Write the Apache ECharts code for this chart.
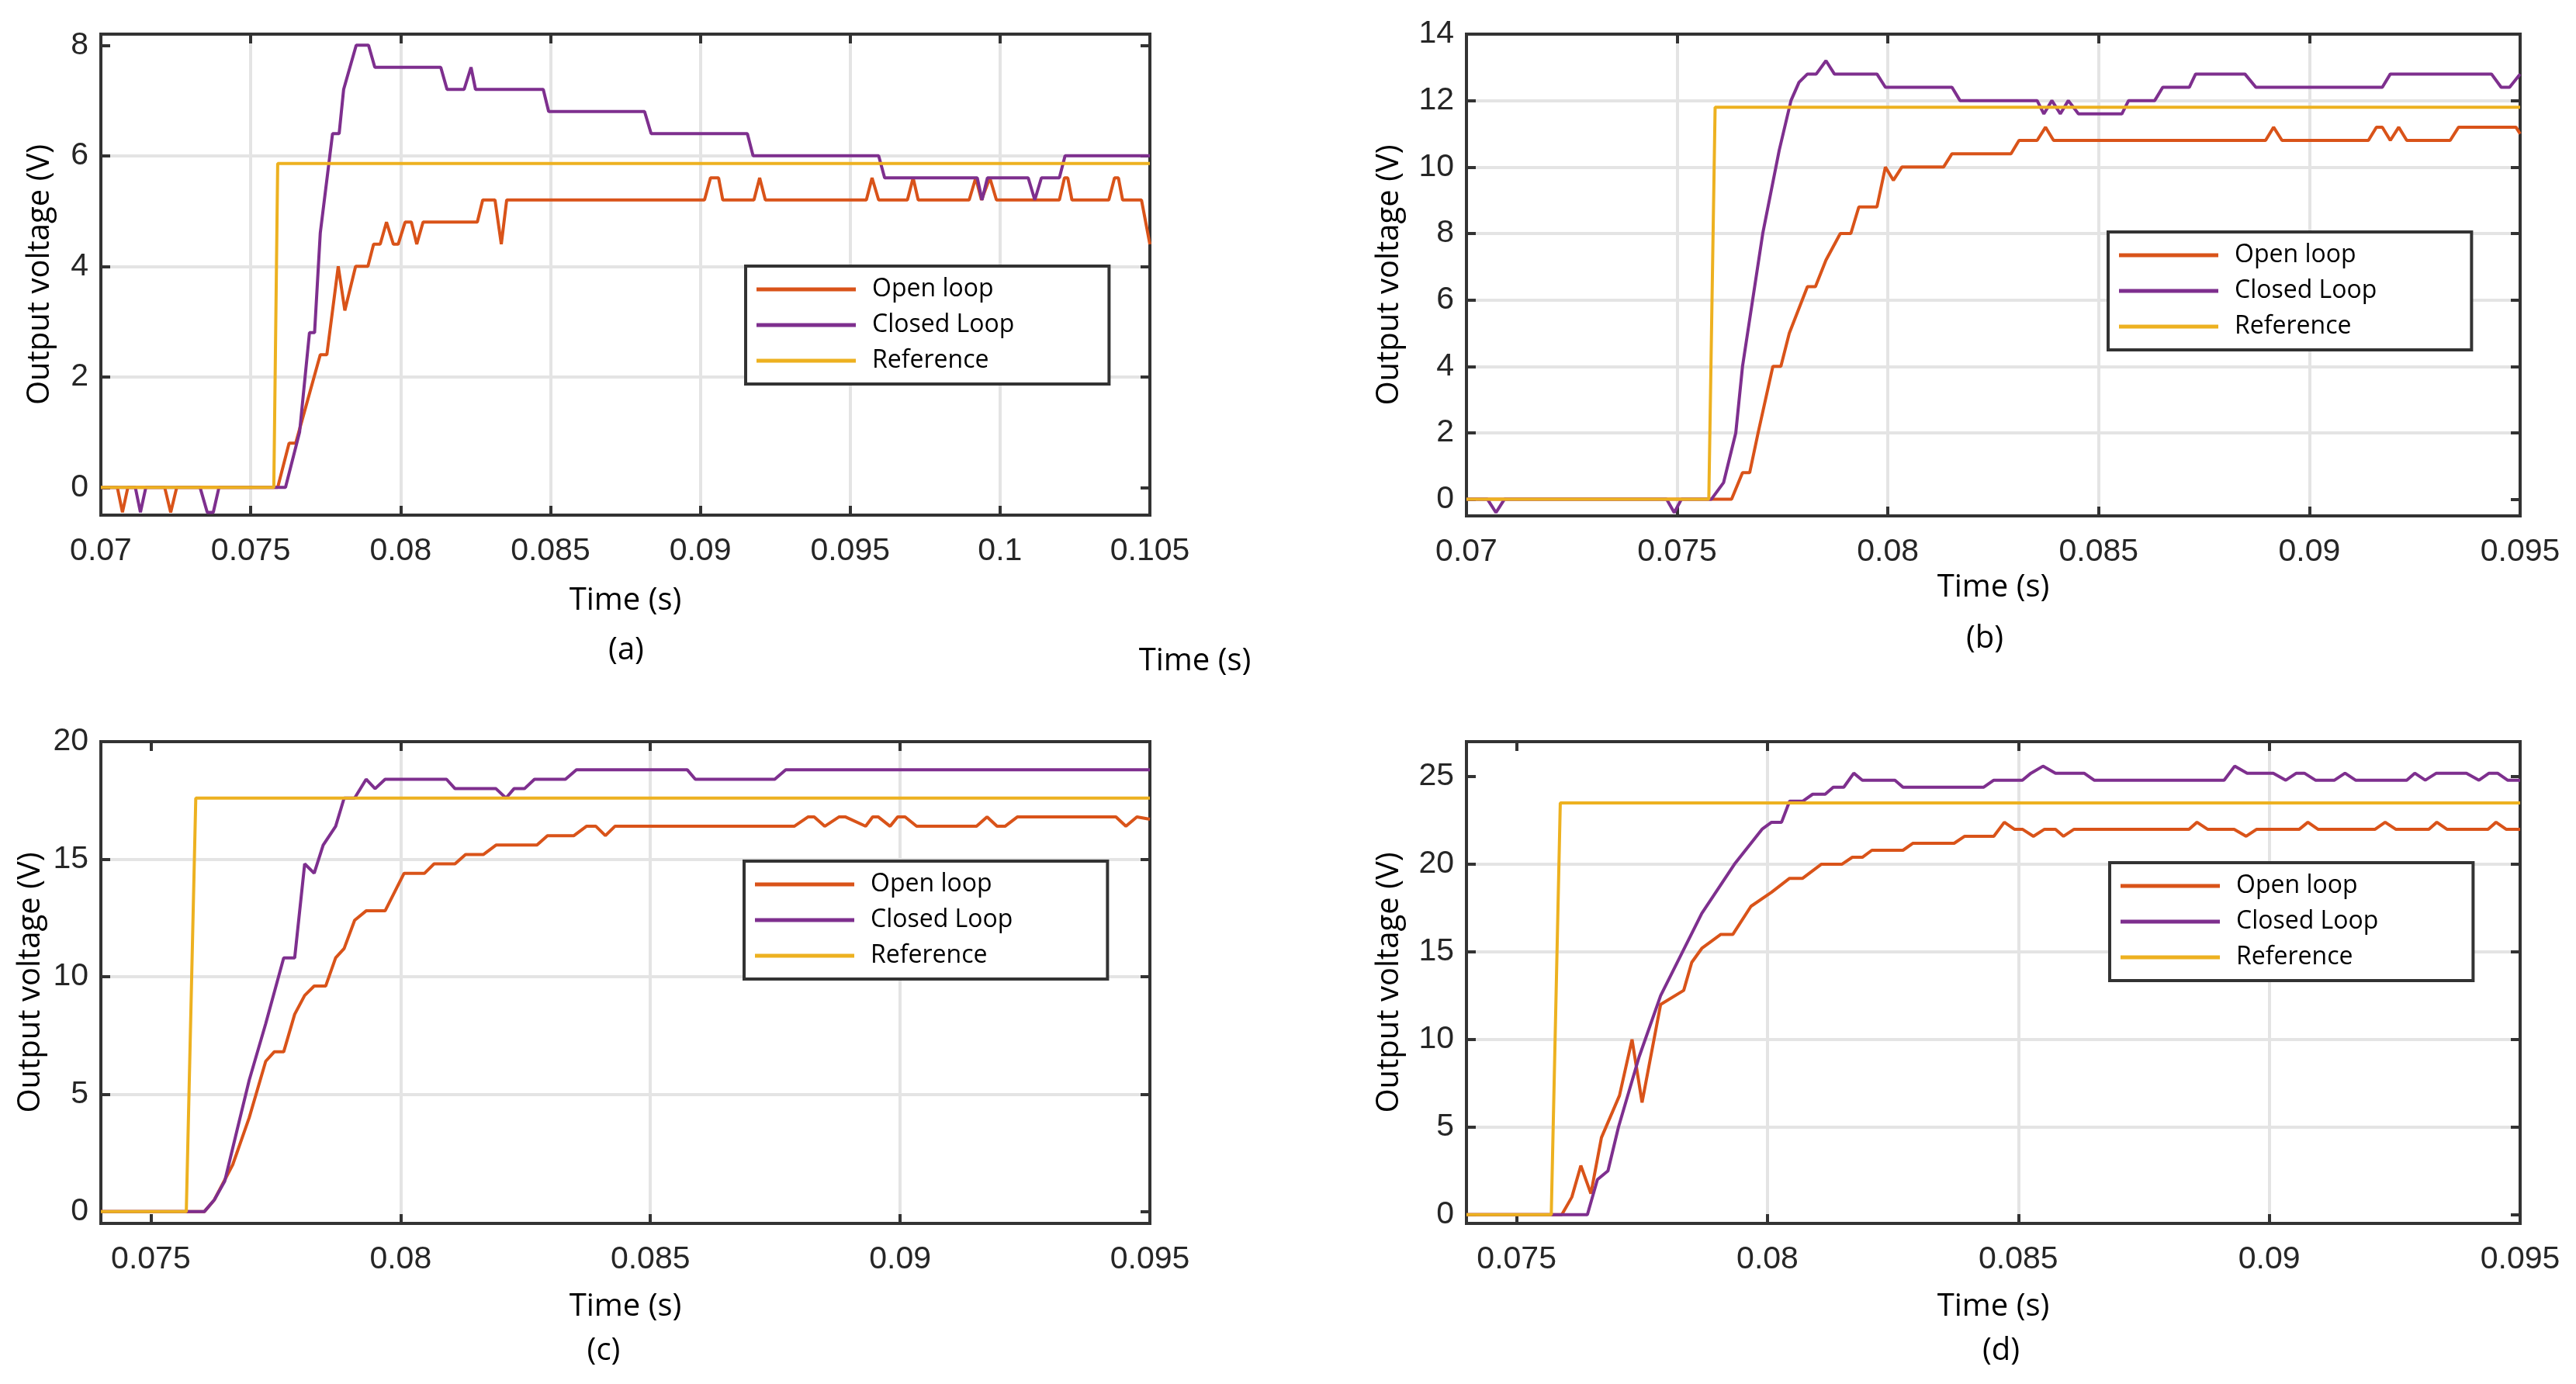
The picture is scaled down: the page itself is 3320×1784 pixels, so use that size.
<!DOCTYPE html>
<html><head><meta charset="utf-8">
<script src="https://cdn.jsdelivr.net/npm/echarts@6/dist/echarts.min.js"></script>
<style>html,body{margin:0;padding:0;background:#fff}#c{width:3320px;height:1784px}</style>
</head><body><div id="c"></div>
<script>
const seriesNames = ['Open loop', 'Closed Loop', 'Reference'];
const seriesColors = ['#D95319', '#7E2F8E', '#EDB120'];

// ---- panel (a) ----
const aOpen = [[0.07,0],[0.07055,0],[0.07072,-0.45],[0.0709,0],[0.07213,0],[0.07233,-0.45],[0.07253,0],[0.0759,0],[0.07628,0.8],[0.0765,0.8],[0.07732,2.4],[0.07754,2.4],[0.07792,4.0],[0.07814,3.2],[0.0785,4.0],[0.07891,4.0],[0.0791,4.4],[0.07932,4.4],[0.07953,4.8],[0.07976,4.4],[0.07992,4.4],[0.08015,4.8],[0.08036,4.8],[0.08054,4.4],[0.08075,4.8],[0.08256,4.8],[0.08274,5.2],[0.08315,5.2],[0.08336,4.4],[0.08354,5.2],[0.09014,5.2],[0.09034,5.6],[0.09061,5.6],[0.09075,5.2],[0.09179,5.2],[0.09198,5.6],[0.09217,5.2],[0.09554,5.2],[0.09573,5.6],[0.09595,5.2],[0.09691,5.2],[0.0971,5.6],[0.09727,5.2],[0.09897,5.2],[0.09919,5.6],[0.09938,5.2],[0.09966,5.6],[0.09988,5.2],[0.10198,5.2],[0.10215,5.6],[0.10226,5.6],[0.1024,5.2],[0.10363,5.2],[0.10382,5.6],[0.10395,5.6],[0.10409,5.2],[0.10472,5.2],[0.105,4.4]];
const aClosed = [[0.07,0],[0.07115,0],[0.07132,-0.45],[0.0715,0],[0.07331,0],[0.07355,-0.45],[0.07375,-0.45],[0.07394,0],[0.07616,0],[0.07663,1.0],[0.07696,2.8],[0.07713,2.8],[0.07732,4.6],[0.07773,6.4],[0.07795,6.4],[0.0781,7.2],[0.07852,8.0],[0.07893,8.0],[0.07914,7.6],[0.08134,7.6],[0.08155,7.2],[0.08212,7.2],[0.08235,7.6],[0.0825,7.2],[0.08476,7.2],[0.08494,6.8],[0.08814,6.8],[0.08836,6.4],[0.09157,6.4],[0.09176,6.0],[0.09595,6.0],[0.09615,5.6],[0.09924,5.6],[0.0994,5.2],[0.09958,5.6],[0.10094,5.6],[0.10116,5.2],[0.10138,5.6],[0.10198,5.6],[0.10217,6.0],[0.105,6.0]];
const aRef = [[0.07,0],[0.07577,0],[0.0759,5.86],[0.105,5.86]];

// ---- panel (b) ----
const bOpen = [[0.07,0],[0.07629,0],[0.07655,0.8],[0.07672,0.8],[0.07692,2.0],[0.07727,4.0],[0.07746,4.0],[0.07766,5.0],[0.07809,6.4],[0.07828,6.4],[0.07853,7.2],[0.07887,8.0],[0.07912,8.0],[0.07931,8.8],[0.07974,8.8],[0.07994,10.0],[0.08013,9.6],[0.08033,10.0],[0.08132,10.0],[0.08152,10.4],[0.08292,10.4],[0.08311,10.8],[0.08354,10.8],[0.08374,11.2],[0.08393,10.8],[0.08896,10.8],[0.08915,11.2],[0.08935,10.8],[0.0914,10.8],[0.09159,11.2],[0.09173,11.2],[0.09192,10.8],[0.09212,11.2],[0.09231,10.8],[0.09334,10.8],[0.09354,11.2],[0.0949,11.2],[0.095,11.0]];
const bClosed = [[0.07,0],[0.0705,0],[0.0707,-0.4],[0.0709,0],[0.07475,0],[0.07493,-0.4],[0.0751,0],[0.07581,0],[0.0761,0.5],[0.07639,2.0],[0.07655,4.0],[0.07703,8.0],[0.07742,10.5],[0.0777,12.0],[0.07789,12.55],[0.07809,12.8],[0.0783,12.8],[0.07853,13.2],[0.07873,12.8],[0.07974,12.8],[0.07994,12.4],[0.08152,12.4],[0.08171,12.0],[0.08354,12.0],[0.0837,11.6],[0.08389,12.0],[0.08409,11.6],[0.08428,12.0],[0.08452,11.6],[0.08555,11.6],[0.08571,12.0],[0.08633,12.0],[0.08652,12.4],[0.08715,12.4],[0.0873,12.8],[0.08847,12.8],[0.08873,12.4],[0.09173,12.4],[0.09192,12.8],[0.09432,12.8],[0.09455,12.4],[0.09475,12.4],[0.095,12.8]];
const bRef = [[0.07,0],[0.07575,0],[0.0759,11.8],[0.095,11.8]];

// ---- panel (c) ----
const cOpen = [[0.074,0],[0.07607,0],[0.07627,0.5],[0.07664,2.0],[0.07697,4.0],[0.0773,6.4],[0.07747,6.8],[0.07766,6.8],[0.07788,8.4],[0.07808,9.2],[0.07827,9.6],[0.0785,9.6],[0.0787,10.8],[0.07887,11.2],[0.07908,12.4],[0.07931,12.8],[0.07969,12.8],[0.08007,14.4],[0.08048,14.4],[0.08067,14.8],[0.08109,14.8],[0.0813,15.2],[0.08166,15.2],[0.08191,15.6],[0.08273,15.6],[0.08294,16.0],[0.08347,16.0],[0.08372,16.4],[0.08391,16.4],[0.0841,16.0],[0.08429,16.4],[0.08788,16.4],[0.08816,16.8],[0.08828,16.8],[0.08849,16.4],[0.08878,16.8],[0.0889,16.8],[0.08931,16.4],[0.08945,16.8],[0.08956,16.8],[0.0898,16.4],[0.08995,16.8],[0.0901,16.8],[0.09033,16.4],[0.09153,16.4],[0.09174,16.8],[0.09194,16.4],[0.0921,16.4],[0.09235,16.8],[0.09432,16.8],[0.09452,16.4],[0.09474,16.8],[0.095,16.7]];
const cClosed = [[0.074,0],[0.07607,0],[0.07627,0.5],[0.07648,1.3],[0.07673,3.5],[0.07697,5.6],[0.0773,8.0],[0.07766,10.8],[0.07788,10.8],[0.07808,14.8],[0.07827,14.4],[0.07845,15.6],[0.0787,16.4],[0.07887,17.6],[0.07908,17.6],[0.07931,18.4],[0.07949,18.0],[0.07969,18.4],[0.08092,18.4],[0.08109,18.0],[0.08191,18.0],[0.08211,17.6],[0.08227,18.0],[0.08248,18.0],[0.08268,18.4],[0.0833,18.4],[0.08352,18.8],[0.08574,18.8],[0.0859,18.4],[0.08749,18.4],[0.08771,18.8],[0.095,18.8]];
const cRef = [[0.074,0],[0.07571,0],[0.0759,17.6],[0.095,17.6]];

// ---- panel (d) ----
const dOpen = [[0.074,0],[0.0759,0],[0.0761,1.0],[0.07628,2.8],[0.07648,1.2],[0.07669,4.4],[0.07705,6.8],[0.0773,10.0],[0.0775,6.4],[0.07787,12.0],[0.07833,12.8],[0.07849,14.4],[0.07869,15.2],[0.07907,16.0],[0.07931,16.0],[0.07967,17.6],[0.08008,18.4],[0.08044,19.2],[0.0807,19.2],[0.08107,20.0],[0.08148,20.0],[0.08169,20.4],[0.08189,20.4],[0.08208,20.8],[0.0827,20.8],[0.0829,21.2],[0.08372,21.2],[0.08393,21.6],[0.08451,21.6],[0.08472,22.4],[0.08492,22.0],[0.08508,22.0],[0.0853,21.6],[0.08552,22.0],[0.08574,22.0],[0.0859,21.6],[0.08611,22.0],[0.0884,22.0],[0.08856,22.4],[0.08877,22.0],[0.0893,22.0],[0.08954,21.6],[0.08975,22.0],[0.0906,22.0],[0.09077,22.4],[0.09097,22.0],[0.09211,22.0],[0.09231,22.4],[0.09252,22.0],[0.09318,22.0],[0.09334,22.4],[0.09354,22.0],[0.09436,22.0],[0.09452,22.4],[0.09472,22.0],[0.095,22.0]];
const dClosed = [[0.074,0],[0.07641,0],[0.07661,2.0],[0.07682,2.5],[0.07703,5.0],[0.07744,9.0],[0.07787,12.5],[0.07869,17.2],[0.07934,20.0],[0.07989,22.0],[0.08008,22.4],[0.08028,22.4],[0.08044,23.6],[0.0807,23.6],[0.0809,24.0],[0.08115,24.0],[0.08131,24.4],[0.08152,24.4],[0.08172,25.2],[0.08189,24.8],[0.08254,24.8],[0.0827,24.4],[0.08431,24.4],[0.08451,24.8],[0.08508,24.8],[0.08525,25.2],[0.08549,25.6],[0.08574,25.2],[0.08631,25.2],[0.08651,24.8],[0.0891,24.8],[0.08931,25.6],[0.08956,25.2],[0.09008,25.2],[0.09033,24.8],[0.09054,25.2],[0.0907,25.2],[0.09092,24.8],[0.0913,24.8],[0.09151,25.2],[0.09172,24.8],[0.09274,24.8],[0.0929,25.2],[0.09311,24.8],[0.09333,25.2],[0.09393,25.2],[0.09418,24.8],[0.09438,25.2],[0.09455,25.2],[0.09475,24.8],[0.095,24.8]];
const dRef = [[0.074,0],[0.07569,0],[0.07587,23.5],[0.095,23.5]];

// ---- ticks ----
const xTicksA = [0.07, 0.075, 0.08, 0.085, 0.09, 0.095, 0.1, 0.105];
const xTicksB = [0.07, 0.075, 0.08, 0.085, 0.09, 0.095];
const xTicksCD = [0.075, 0.08, 0.085, 0.09, 0.095];
const yTicksA = [0, 2, 4, 6, 8];
const yTicksB = [0, 2, 4, 6, 8, 10, 12, 14];
const yTicksC = [0, 5, 10, 15, 20];
const yTicksD = [0, 5, 10, 15, 20, 25];
const captions = ['(a)', '(b)', '(c)', '(d)'];
const xTitle = 'Time (s)';
const yTitle = 'Output voltage (V)';

const panels = [
  { grid: {left:130, top:44, width:1352, height:620}, xr:[0.07,0.105], yr:[-0.5,8.2], xt:xTicksA, yt:yTicksA, data:[aOpen,aClosed,aRef], yGap:58, xGap:91, lg:{left:961, top:343}, cap:[807,839] },
  { grid: {left:1890, top:44, width:1358, height:621}, xr:[0.07,0.095], yr:[-0.5,14], xt:xTicksB, yt:yTicksB, data:[bOpen,bClosed,bRef], yGap:79, xGap:73, lg:{left:2717, top:299}, cap:[2558,824] },
  { grid: {left:130, top:956, width:1352, height:621}, xr:[0.074,0.095], yr:[-0.5,20], xt:xTicksCD, yt:yTicksC, data:[cOpen,cClosed,cRef], yGap:70, xGap:88, lg:{left:959, top:1110}, cap:[778,1742] },
  { grid: {left:1890, top:956, width:1358, height:621}, xr:[0.074,0.095], yr:[-0.5,27], xt:xTicksCD, yt:yTicksD, data:[dOpen,dClosed,dRef], yGap:79, xGap:88, lg:{left:2719, top:1112}, cap:[2579,1742] }
];

const tickFont = {fontFamily:'Liberation Sans', fontSize:41, color:'#262626'};
const nameFont = {fontFamily:'Open Sans', fontSize:40, color:'#000'};
const tickLine = {color:'#333', width:4};
const frameLine = {show:true, onZero:false, lineStyle:{color:'#333', width:4}};
const gridLineStyle = {color:'#e4e4e4', width:4};

const option = {
  animation:false, backgroundColor:'#fff',
  grid:[], xAxis:[], yAxis:[], series:[], legend:[], graphic:[]
};

panels.forEach((p, i) => {
  option.grid.push(Object.assign({show:true, borderColor:'#333', borderWidth:4, backgroundColor:'#fff'}, p.grid));
  // bottom x
  option.xAxis.push({type:'value', gridIndex:i, position:'bottom', min:p.xr[0], max:p.xr[1],
    name:xTitle, nameLocation:'middle', nameGap:p.xGap, nameTextStyle:nameFont,
    axisLine:frameLine,
    axisTick:{show:true, inside:true, length:12, lineStyle:tickLine, customValues:p.xt},
    axisLabel:{show:true, margin:26, customValues:p.xt, formatter:v=>String(v), ...tickFont},
    splitLine:{show:true, showMinLine:false, showMaxLine:false, lineStyle:gridLineStyle}});
  // top x (ticks only)
  option.xAxis.push({type:'value', gridIndex:i, position:'top', min:p.xr[0], max:p.xr[1],
    axisLine:frameLine,
    axisTick:{show:true, inside:true, length:12, lineStyle:tickLine, customValues:p.xt},
    axisLabel:{show:false}, splitLine:{show:false}});
  // left y
  option.yAxis.push({type:'value', gridIndex:i, position:'left', min:p.yr[0], max:p.yr[1],
    name:yTitle, nameLocation:'middle', nameGap:p.yGap, nameTextStyle:nameFont,
    axisLine:frameLine,
    axisTick:{show:true, inside:true, length:12, lineStyle:tickLine, customValues:p.yt},
    axisLabel:{show:true, margin:16, customValues:p.yt, ...tickFont},
    splitLine:{show:true, showMinLine:false, showMaxLine:false, lineStyle:gridLineStyle}});
  // right y (ticks only)
  option.yAxis.push({type:'value', gridIndex:i, position:'right', min:p.yr[0], max:p.yr[1],
    axisLine:frameLine,
    axisTick:{show:true, inside:true, length:12, lineStyle:tickLine, customValues:p.yt},
    axisLabel:{show:false}, splitLine:{show:false}});

  p.data.forEach((d, k) => {
    option.series.push({type:'line', name:seriesNames[k], xAxisIndex:2*i, yAxisIndex:2*i,
      data:d, showSymbol:false, symbol:'none', clip:true, z:2+k,
      lineStyle:{color:seriesColors[k], width:4}, itemStyle:{color:seriesColors[k]}});
  });

  option.legend.push({data:seriesNames, orient:'vertical', left:p.lg.left, top:p.lg.top,
    padding:[14,122,14,14], itemGap:14, itemWidth:128, itemHeight:5, icon:'rect',
    borderColor:'#333', borderWidth:4, backgroundColor:'#fff', borderRadius:0,
    selectedMode:false,
    textStyle:{fontFamily:'Open Sans', fontSize:32, lineHeight:32, color:'#000', padding:[0,0,0,16]}});

  option.graphic.push({type:'text', x:p.cap[0], y:p.cap[1],
    style:{text:captions[i], fontFamily:'Open Sans', fontSize:40, fill:'#000', align:'center', verticalAlign:'middle'}});
});
option.graphic.push({type:'text', x:1540, y:853,
  style:{text:xTitle, fontFamily:'Open Sans', fontSize:40, fill:'#000', align:'center', verticalAlign:'middle'}});

const chart = echarts.init(document.getElementById('c'), null, {renderer:'canvas'});
chart.setOption(option);
</script></body></html>
